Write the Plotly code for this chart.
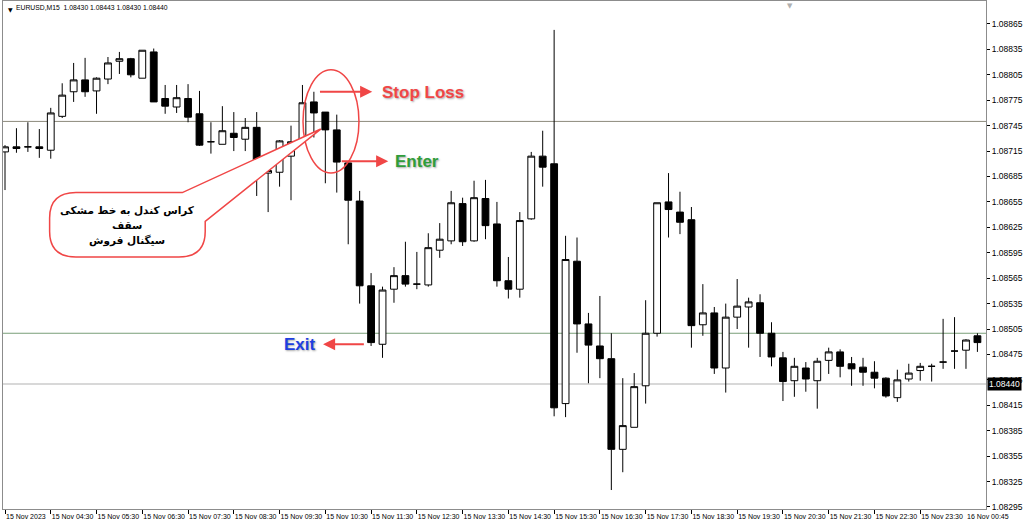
import plotly.graph_objects as go

# EURUSD M15, 15 Nov 2023 03:30 -> 16 Nov 2023 00:45 (one entry per bar)
opens = [1.08714, 1.08720, 1.08720, 1.08720, 1.08716, 1.08756, 1.08785, 1.08799, 1.08786, 1.08800,
         1.08821, 1.08824, 1.08801, 1.08832, 1.08777, 1.08767, 1.08777, 1.08759, 1.08726, 1.08723,
         1.08736, 1.08729, 1.08743, 1.08689, 1.08690, 1.08709, 1.08728, 1.08773, 1.08761, 1.08740,
         1.08701, 1.08656, 1.08556, 1.08487, 1.08552, 1.08568, 1.08558, 1.08557, 1.08598, 1.08609,
         1.08653, 1.08609, 1.08659, 1.08629, 1.08562, 1.08552, 1.08635, 1.08709, 1.08700, 1.08417,
         1.08585, 1.08511, 1.08485, 1.08470, 1.08363, 1.08389, 1.08438, 1.08500, 1.08655, 1.08643,
         1.08634, 1.08510, 1.08524, 1.08459, 1.08519, 1.08531, 1.08536, 1.08500, 1.08471, 1.08444,
         1.08459, 1.08444, 1.08468, 1.08478, 1.08464, 1.08460, 1.08454, 1.08447, 1.08424, 1.08446,
         1.08456, 1.08461, 1.08466, 1.08479, 1.08480, 1.08497]
highs = [1.08722, 1.08742, 1.08749, 1.08741, 1.08766, 1.08795, 1.08819, 1.08825, 1.08802, 1.08826,
         1.08832, 1.08825, 1.08834, 1.08836, 1.08793, 1.08793, 1.08794, 1.08786, 1.08749, 1.08768,
         1.08761, 1.08754, 1.08761, 1.08693, 1.08728, 1.08745, 1.08793, 1.08785, 1.08761, 1.08758,
         1.08702, 1.08668, 1.08571, 1.08555, 1.08578, 1.08608, 1.08596, 1.08618, 1.08630, 1.08668,
         1.08660, 1.08680, 1.08681, 1.08655, 1.08590, 1.08643, 1.08714, 1.08739, 1.08858, 1.08615,
         1.08613, 1.08524, 1.08544, 1.08500, 1.08447, 1.08453, 1.08539, 1.08654, 1.08689, 1.08667,
         1.08649, 1.08558, 1.08531, 1.08535, 1.08564, 1.08542, 1.08546, 1.08513, 1.08478, 1.08471,
         1.08466, 1.08471, 1.08483, 1.08481, 1.08472, 1.08471, 1.08467, 1.08448, 1.08457, 1.08464,
         1.08465, 1.08464, 1.08517, 1.08519, 1.08493, 1.08500]
lows = [1.08669, 1.08713, 1.08714, 1.08707, 1.08706, 1.08754, 1.08773, 1.08779, 1.08759, 1.08794,
        1.08806, 1.08802, 1.08801, 1.08773, 1.08759, 1.08760, 1.08749, 1.08721, 1.08712, 1.08723,
        1.08715, 1.08715, 1.08662, 1.08643, 1.08673, 1.08657, 1.08725, 1.08731, 1.08677, 1.08666,
        1.08605, 1.08535, 1.08485, 1.08471, 1.08536, 1.08555, 1.08552, 1.08555, 1.08589, 1.08605,
        1.08603, 1.08608, 1.08611, 1.08555, 1.08541, 1.08542, 1.08634, 1.08673, 1.08402, 1.08401,
        1.08477, 1.08441, 1.08447, 1.08315, 1.08336, 1.08389, 1.08417, 1.08496, 1.08613, 1.08617,
        1.08483, 1.08497, 1.08452, 1.08430, 1.08505, 1.08483, 1.08472, 1.08461, 1.08420, 1.08425,
        1.08431, 1.08411, 1.08452, 1.08448, 1.08438, 1.08438, 1.08435, 1.08424, 1.08419, 1.08443,
        1.08444, 1.08443, 1.08458, 1.08458, 1.08458, 1.08478]
closes = [1.08720, 1.08718, 1.08720, 1.08718, 1.08760, 1.08781, 1.08799, 1.08785, 1.08801, 1.08819,
          1.08824, 1.08805, 1.08834, 1.08773, 1.08768, 1.08778, 1.08755, 1.08722, 1.08726, 1.08739,
          1.08731, 1.08743, 1.08701, 1.08692, 1.08727, 1.08726, 1.08772, 1.08760, 1.08740, 1.08702,
          1.08657, 1.08556, 1.08489, 1.08551, 1.08568, 1.08558, 1.08558, 1.08601, 1.08611, 1.08654,
          1.08608, 1.08660, 1.08627, 1.08562, 1.08552, 1.08633, 1.08709, 1.08696, 1.08412, 1.08587,
          1.08511, 1.08486, 1.08470, 1.08363, 1.08391, 1.08437, 1.08500, 1.08654, 1.08646, 1.08631,
          1.08509, 1.08524, 1.08459, 1.08519, 1.08532, 1.08537, 1.08500, 1.08472, 1.08443, 1.08461,
          1.08446, 1.08467, 1.08478, 1.08461, 1.08458, 1.08454, 1.08447, 1.08426, 1.08445, 1.08453,
          1.08461, 1.08461, 1.08466, 1.08479, 1.08492, 1.08489]
bars = list(range(len(opens)))

# time axis labels (bar index -> label)
time_tick_bars = [0, 4, 8, 12, 16, 20, 24, 28, 32, 36, 40, 44, 48, 52, 56, 60, 64, 68, 72, 76, 80]
time_tick_labels = ["15 Nov 2023", "15 Nov 04:30", "15 Nov 05:30", "15 Nov 06:30", "15 Nov 07:30",
                    "15 Nov 08:30", "15 Nov 09:30", "15 Nov 10:30", "15 Nov 11:30", "15 Nov 12:30",
                    "15 Nov 13:30", "15 Nov 14:30", "15 Nov 15:30", "15 Nov 16:30", "15 Nov 17:30",
                    "15 Nov 18:30", "15 Nov 19:30", "15 Nov 20:30", "15 Nov 21:30", "15 Nov 22:30",
                    "15 Nov 23:30"]
last_bar_label = "16 Nov 00:45"

# horizontal levels
resistance_level = 1.0875
target_level = 1.0850
bid_price = 1.08440
header_text = "EURUSD,M15  1.08430 1.08443 1.08430 1.08440"

# callout text, one entry per line
callout_lines = ["کراس کندل به خط مشکی", "سقف", "سیگنال فروش"]
callout_line_prices = [1.08645, 1.08628, 1.08609]

RED = "#f04646"
X_FONT = dict(family="Liberation Sans, Arial", size=7, color="#000000")
Y_FONT = dict(family="Liberation Sans, Arial", size=8.5, color="#000000")

fig = go.Figure()
fig.add_trace(go.Candlestick(
    x=bars, open=opens, high=highs, low=lows, close=closes,
    increasing=dict(fillcolor="#ffffff", line=dict(color="#000000", width=1)),
    decreasing=dict(fillcolor="#000000", line=dict(color="#000000", width=1)),
    whiskerwidth=0, showlegend=False, hoverinfo="skip",
))

shapes = [
    dict(type="line", xref="paper", x0=0, x1=1, yref="y", y0=resistance_level, y1=resistance_level,
         line=dict(color="#8c8a7c", width=1), layer="below"),
    dict(type="line", xref="paper", x0=0, x1=1, yref="y", y0=target_level, y1=target_level,
         line=dict(color="#7a9e78", width=1), layer="below"),
    dict(type="line", xref="paper", x0=0, x1=1, yref="y", y0=bid_price, y1=bid_price,
         line=dict(color="#d8d8d8", width=2), layer="below"),
    # ring around the crossing candles
    dict(type="circle", xref="x", yref="y", x0=26.05, x1=30.94, y0=1.08689, y1=1.08811,
         line=dict(color=RED, width=1.5), fillcolor="rgba(0,0,0,0)", layer="above"),
]

# speech bubble with a pointer towards the crossing candle
bx0, bx1, by0, by1 = 3.9, 17.5, 1.08590, 1.08666
rx, ry = 2.3, 0.00030
tip_x, tip_y = 27.6, 1.08741
bubble_path = (
    f"M {bx0 + rx},{by1} L 15.5,{by1} L {tip_x},{tip_y} L {bx1},1.08632 "
    f"L {bx1},{by0 + ry} Q {bx1},{by0} {bx1 - rx},{by0} "
    f"L {bx0 + rx},{by0} Q {bx0},{by0} {bx0},{by0 + ry} "
    f"L {bx0},{by1 - ry} Q {bx0},{by1} {bx0 + rx},{by1} Z"
)
shapes.append(dict(type="path", xref="x", yref="y", path=bubble_path,
                   line=dict(color=RED, width=1.5), fillcolor="#ffffff", layer="above"))

annotations = []


def arrow(x_head, x_tail, y):
    return dict(x=x_head, y=y, ax=x_tail, ay=y, xref="x", yref="y", axref="x", ayref="y",
                text="", showarrow=True, arrowhead=2, arrowsize=1.1, arrowwidth=2.2,
                arrowcolor=RED, standoff=0, startstandoff=0)


shadow = "1px 1px 2px rgba(0,0,0,0.35)"
annotations += [
    arrow(32.1, 27.4, 1.08785),
    dict(x=32.8, y=1.08784, xref="x", yref="y", text="<b>Stop Loss</b>", showarrow=False,
         xanchor="left", yanchor="middle",
         font=dict(family="Liberation Sans, Arial", size=17, color=RED, shadow=shadow)),
    arrow(33.5, 29.3, 1.08703),
    dict(x=33.9, y=1.08703, xref="x", yref="y", text="<b>Enter</b>", showarrow=False,
         xanchor="left", yanchor="middle",
         font=dict(family="Liberation Sans, Arial", size=17, color="#2f9d3a", shadow=shadow)),
    arrow(27.8, 31.5, 1.08487),
    dict(x=27.4, y=1.08487, xref="x", yref="y", text="<b>Exit</b>", showarrow=False,
         xanchor="right", yanchor="middle",
         font=dict(family="Liberation Sans, Arial", size=17, color="#1e3fe0", shadow=shadow)),
]
for line_text, line_price in zip(callout_lines, callout_line_prices):
    annotations.append(dict(
        x=10.7, y=line_price, xref="x", yref="y", text=f"<b>{line_text}</b>",
        showarrow=False, xanchor="center", yanchor="middle",
        font=dict(family="DejaVu Sans, Noto Sans", size=10.5, color="#000000")))

annotations += [
    # header line
    dict(x=0, y=1, xref="paper", yref="paper", xanchor="left", yanchor="top", xshift=3, yshift=-3,
         text="▼", showarrow=False, font=dict(family="DejaVu Sans", size=6, color="#000000")),
    dict(x=0, y=1, xref="paper", yref="paper", xanchor="left", yanchor="top", xshift=11, yshift=-1,
         text=header_text, showarrow=False, font=dict(family="Liberation Sans, Arial", size=6.8, color="#000000")),
    dict(x=0.8006, y=1, xref="paper", yref="paper", xanchor="center", yanchor="top", yshift=1,
         text="▼", showarrow=False, font=dict(family="DejaVu Sans", size=7, color="#b0b0b0")),
    # current bid label on the price scale
    dict(x=1, y=bid_price, xref="paper", yref="y", xanchor="left", yanchor="middle", xshift=1,
         text=f"{bid_price:.5f}", showarrow=False, bgcolor="#000000", borderpad=1,
         font=dict(family="Liberation Sans, Arial", size=8.5, color="#ffffff")),
    # last bar time label
    dict(x=bars[-1], y=0, xref="x", yref="paper", xanchor="left", yanchor="top", xshift=-12, yshift=-2,
         text=last_bar_label, showarrow=False, font=X_FONT),
]

fig.update_layout(
    width=1024, height=526,
    margin=dict(l=3, r=38, t=1, b=17),
    paper_bgcolor="#ffffff", plot_bgcolor="#ffffff",
    boxgap=0.15, boxgroupgap=0.3,
    shapes=shapes, annotations=annotations,
    showlegend=False,
)
fig.update_xaxes(
    range=[-0.175, 85.75], rangeslider=dict(visible=False), automargin=False,
    tickmode="array", tickvals=time_tick_bars, ticktext=time_tick_labels, tickangle=0,
    ticks="outside", ticklen=4, tickcolor="#000000", ticklabelposition="outside right",
    ticklabelstandoff=1,
    tickfont=X_FONT, showgrid=False, zeroline=False,
    showline=True, linecolor="#8c8c8c", linewidth=1, mirror=True,
)
fig.update_yaxes(
    range=[1.082926, 1.088921], side="right", automargin=False,
    tickmode="linear", tick0=1.08295, dtick=0.0003, tickformat=".5f",
    ticks="outside", ticklen=3, tickcolor="#000000", tickfont=Y_FONT,
    showgrid=False, zeroline=False,
    showline=True, linecolor="#8c8c8c", linewidth=1, mirror=True,
)

fig.write_html("out.html")
